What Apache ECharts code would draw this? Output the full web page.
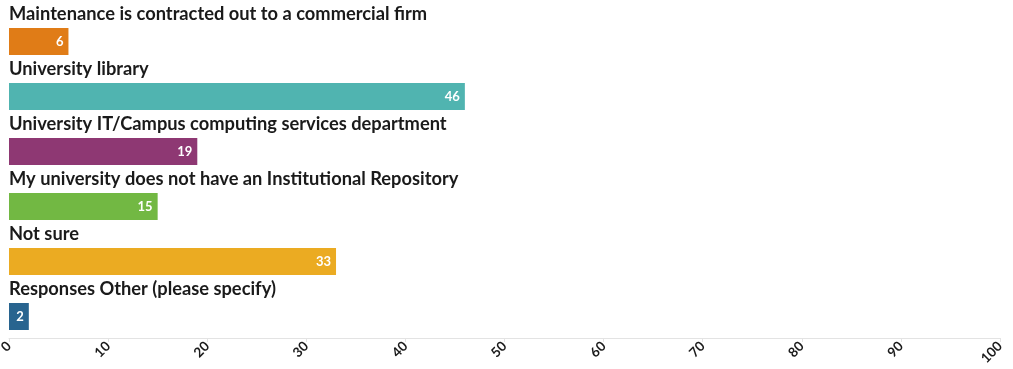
<!DOCTYPE html>
<html>
<head>
<meta charset="utf-8">
<script src="https://cdn.jsdelivr.net/npm/echarts@6/dist/echarts.min.js"></script>
<style>
  html, body { margin: 0; padding: 0; background: #ffffff; }
  #chart { width: 1013px; height: 369px; }
</style>
</head>
<body>
<div id="chart"></div>
<script>
// Who maintains the institutional repository (number of responses)
const categories = [
  'Maintenance is contracted out to a commercial firm',
  'University library',
  'University IT/Campus computing services department',
  'My university does not have an Institutional Repository',
  'Not sure',
  'Responses Other (please specify)'
];
const values = [6, 46, 19, 15, 33, 2];
const barColors = ['#e07c17', '#50b4b0', '#8e3873', '#72b843', '#ebab22', '#28648f'];
const xTicks = [0, 10, 20, 30, 40, 50, 60, 70, 80, 90, 100];

const FONT = 'Lato, "Open Sans", sans-serif';

const chart = echarts.init(document.getElementById('chart'), null, { renderer: 'canvas' });

chart.setOption({
  animation: false,
  grid: { left: 9, right: 13, top: 14, bottom: 25, containLabel: false, outerBoundsMode: 'none' },
  xAxis: {
    type: 'value',
    min: xTicks[0],
    max: xTicks[xTicks.length - 1],
    interval: 10,
    offset: -6,
    axisLine: { show: true, lineStyle: { color: '#e3e3e3', width: 1 } },
    axisTick: { show: true, length: 4, lineStyle: { color: '#e3e3e3' } },
    splitLine: { show: false },
    axisLabel: {
      rotate: 45,
      margin: 6,
      color: '#1a1a1a',
      fontFamily: FONT,
      fontWeight: 'bold',
      fontSize: 13.5
    }
  },
  yAxis: {
    type: 'category',
    data: categories,
    inverse: true,
    axisLine: { show: false },
    axisTick: { show: false },
    axisLabel: { show: false }
  },
  series: [{
    // coloured bars with the count at their right end
    type: 'bar',
    barWidth: 27,
    data: values.map((v, i) => ({ value: v, itemStyle: { color: barColors[i] } })),
    label: {
      show: true,
      position: 'insideRight',
      distance: 5,
      color: '#ffffff',
      fontFamily: FONT,
      fontWeight: 'bold',
      fontSize: 13
    }
  }, {
    // transparent twin series carrying the category title above each bar
    type: 'bar',
    barWidth: 27,
    barGap: '-100%',
    silent: true,
    data: values,
    itemStyle: { color: 'rgba(0,0,0,0)' },
    label: {
      show: true,
      position: [0, -23],
      formatter: '{b}',
      color: '#1a1a1a',
      fontFamily: FONT,
      fontWeight: 'bold',
      fontSize: 18.3
    }
  }]
});
</script>
</body>
</html>
